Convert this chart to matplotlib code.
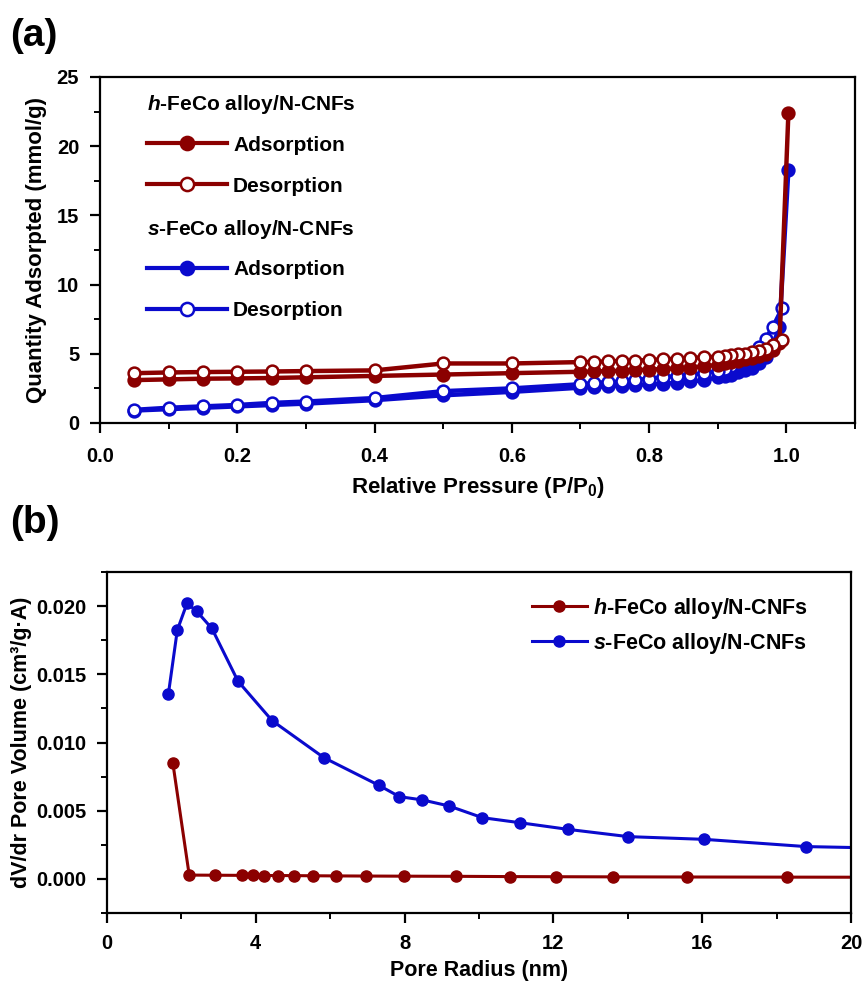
import numpy as np
import matplotlib
matplotlib.use("Agg")
import matplotlib.pyplot as plt
from matplotlib.lines import Line2D
from matplotlib.ticker import MultipleLocator, FormatStrFormatter

plt.rcParams['font.family'] = ['Liberation Sans', 'DejaVu Sans']
plt.rcParams['font.weight'] = 'bold'
plt.rcParams['mathtext.fontset'] = 'custom'
plt.rcParams['mathtext.rm'] = 'Liberation Sans:bold'
plt.rcParams['mathtext.it'] = 'Liberation Sans:bold:italic'
plt.rcParams['mathtext.bf'] = 'Liberation Sans:bold'

RED = '#8B0000'
BLUE = '#0A0ACD'

# (a) N2 isotherms
p_ads = [0.05, 0.10, 0.15, 0.20, 0.25, 0.30, 0.40, 0.50, 0.60, 0.70,
         0.72, 0.74, 0.76, 0.78, 0.80, 0.82, 0.84, 0.86, 0.88, 0.90,
         0.91, 0.92, 0.93, 0.94, 0.95, 0.96, 0.97, 0.98, 0.99, 1.003]
p_des = [0.994, 0.98, 0.97, 0.96, 0.95, 0.94, 0.93, 0.92, 0.91, 0.90,
         0.88, 0.86, 0.84, 0.82, 0.80, 0.78, 0.76, 0.74, 0.72, 0.70,
         0.60, 0.50, 0.40, 0.30, 0.25, 0.20, 0.15, 0.10, 0.05]

h_ads = [3.1, 3.15, 3.2, 3.22, 3.25, 3.3, 3.4, 3.5, 3.6, 3.7,
         3.72, 3.75, 3.78, 3.82, 3.86, 3.9, 3.95, 4.0, 4.1, 4.2,
         4.3, 4.4, 4.5, 4.6, 4.7, 4.85, 5.0, 5.3, 5.8, 22.4]
h_des = [6.0, 5.6, 5.35, 5.2, 5.1, 5.0, 4.95, 4.9, 4.85, 4.8,
         4.75, 4.7, 4.65, 4.6, 4.55, 4.5, 4.5, 4.45, 4.42, 4.4,
         4.3, 4.3, 3.8, 3.75, 3.72, 3.7, 3.68, 3.65, 3.6]

s_ads = [0.9, 1.0, 1.1, 1.2, 1.3, 1.4, 1.65, 2.0, 2.25, 2.55,
         2.6, 2.65, 2.7, 2.75, 2.8, 2.85, 2.9, 3.0, 3.1, 3.3,
         3.4, 3.5, 3.65, 3.8, 4.0, 4.3, 4.8, 5.6, 6.9, 18.3]
s_des = [8.3, 6.9, 6.1, 5.5, 5.0, 4.6, 4.3, 4.1, 3.9, 3.75,
         3.6, 3.5, 3.4, 3.3, 3.2, 3.1, 3.0, 2.95, 2.9, 2.8,
         2.5, 2.3, 1.8, 1.55, 1.45, 1.3, 1.2, 1.1, 0.95]

# (b) pore size distribution
r_h = [1.77, 2.21, 2.9, 3.64, 3.92, 4.21, 4.6, 5.03, 5.55, 6.16, 6.96,
       7.99, 9.38, 10.83, 12.07, 13.59, 15.58, 18.29, 21.5]
v_h = [0.0085, 0.00028, 0.00027, 0.00026, 0.00026, 0.00025, 0.00025, 0.00024,
       0.00023, 0.00022, 0.00021, 0.0002, 0.00019, 0.00017, 0.00016,
       0.00015, 0.00014, 0.00013, 0.00012]
r_s = [1.65, 1.89, 2.15, 2.41, 2.82, 3.52, 4.44, 5.83, 7.31, 7.86, 8.48,
       9.19, 10.09, 11.1, 12.4, 14.01, 16.06, 18.79, 21.5]
v_s = [0.01355, 0.01824, 0.0202, 0.01963, 0.01836, 0.0145, 0.0116, 0.00889,
       0.00686, 0.00603, 0.00579, 0.00535, 0.00449, 0.00412, 0.00363,
       0.0031, 0.0029, 0.00237, 0.00222]

fig = plt.figure(figsize=(8.65, 9.83), dpi=100)
ax1 = fig.add_axes([0.1156, 0.5697, 0.8728, 0.3520])
ax2 = fig.add_axes([0.1237, 0.0712, 0.8601, 0.3469])


def style(ax, xpad=8):
    for s in ax.spines.values():
        s.set_linewidth(1.6)
    ax.tick_params(which='major', direction='out', length=7, width=1.6,
                   labelsize=14.5, pad=8)
    ax.tick_params(axis='x', which='major', pad=xpad)
    ax.tick_params(which='minor', direction='out', length=4, width=1.4)
    for t in ax.get_xticklabels() + ax.get_yticklabels():
        t.set_fontweight('bold')


kw = dict(lw=3.2, ms=8.5, mew=1.8)
ax1.plot(p_ads, s_ads, '-o', color=BLUE, mfc=BLUE, **kw)
ax1.plot(p_des, s_des, '-o', color=BLUE, mfc='white', **kw)
ax1.plot(p_ads, h_ads, '-o', color=RED, mfc=RED, **kw)
ax1.plot(p_des, h_des, '-o', color=RED, mfc='white', **kw)
ax1.set_xlim(0, 1.1)
ax1.set_ylim(0, 25)
ax1.xaxis.set_major_locator(MultipleLocator(0.2))
ax1.xaxis.set_minor_locator(MultipleLocator(0.1))
ax1.yaxis.set_major_locator(MultipleLocator(5))
ax1.yaxis.set_minor_locator(MultipleLocator(2.5))
ax1.set_xlabel('Relative Pressure (P/P$_0$)', fontsize=16, fontweight='bold', labelpad=7)
ax1.set_ylabel('Quantity Adsorpted (mmol/g)', fontsize=16, fontweight='bold', labelpad=7)
style(ax1, xpad=10)

lkw = dict(lw=3, ms=9.5, mew=1.8)
leg_fs = 15
h1 = [Line2D([], [], color=RED, marker='o', mfc=RED, **lkw),
      Line2D([], [], color=RED, marker='o', mfc='white', **lkw)]
h2 = [Line2D([], [], color=BLUE, marker='o', mfc=BLUE, **lkw),
      Line2D([], [], color=BLUE, marker='o', mfc='white', **lkw)]
common = dict(frameon=False, handlelength=3.85, handletextpad=0.29,
              labelspacing=1.05, alignment='left', borderpad=0, borderaxespad=0,
              prop={'size': leg_fs, 'weight': 'bold'},
              title_fontproperties={'size': leg_fs, 'weight': 'bold'})
leg1 = ax1.legend(h1, ['Adsorption', 'Desorption'], title='$h$-FeCo alloy/N-CNFs',
                  loc='upper left', bbox_to_anchor=(0.062, 0.953), **common)
ax1.add_artist(leg1)
leg2 = ax1.legend(h2, ['Adsorption', 'Desorption'], title='$s$-FeCo alloy/N-CNFs',
                  loc='upper left', bbox_to_anchor=(0.062, 0.593), **common)
for lg in (leg1, leg2):
    lg._legend_box.sep = 14

ax2.plot(r_h, v_h, '-o', color=RED, lw=2.2, ms=8, label='$h$-FeCo alloy/N-CNFs')
ax2.plot(r_s, v_s, '-o', color=BLUE, lw=2.2, ms=8, label='$s$-FeCo alloy/N-CNFs')
ax2.set_xlim(0, 20)
ax2.set_ylim(-0.0025, 0.0225)
ax2.xaxis.set_major_locator(MultipleLocator(4))
ax2.xaxis.set_minor_locator(MultipleLocator(2))
ax2.yaxis.set_major_locator(MultipleLocator(0.005))
ax2.yaxis.set_minor_locator(MultipleLocator(0.0025))
ax2.yaxis.set_major_formatter(FormatStrFormatter('%.3f'))
ax2.set_xlabel('Pore Radius (nm)', fontsize=15.5, fontweight='bold', labelpad=5)
ax2.set_ylabel('dV/dr Pore Volume (cm³/g·A)', fontsize=15.5, fontweight='bold', labelpad=3)
style(ax2)
ax2.legend(loc='upper right', bbox_to_anchor=(0.942, 0.93), frameon=False,
           handlelength=2.6, handletextpad=0.25, labelspacing=0.45, borderpad=0,
           borderaxespad=0, prop={'size': 15.5, 'weight': 'bold'})

fig.text(0.012, 0.963, '(a)', fontsize=28, fontweight='bold', va='center')
fig.text(0.012, 0.468, '(b)', fontsize=28, fontweight='bold', va='center')

fig.savefig('out.png', dpi=100)
